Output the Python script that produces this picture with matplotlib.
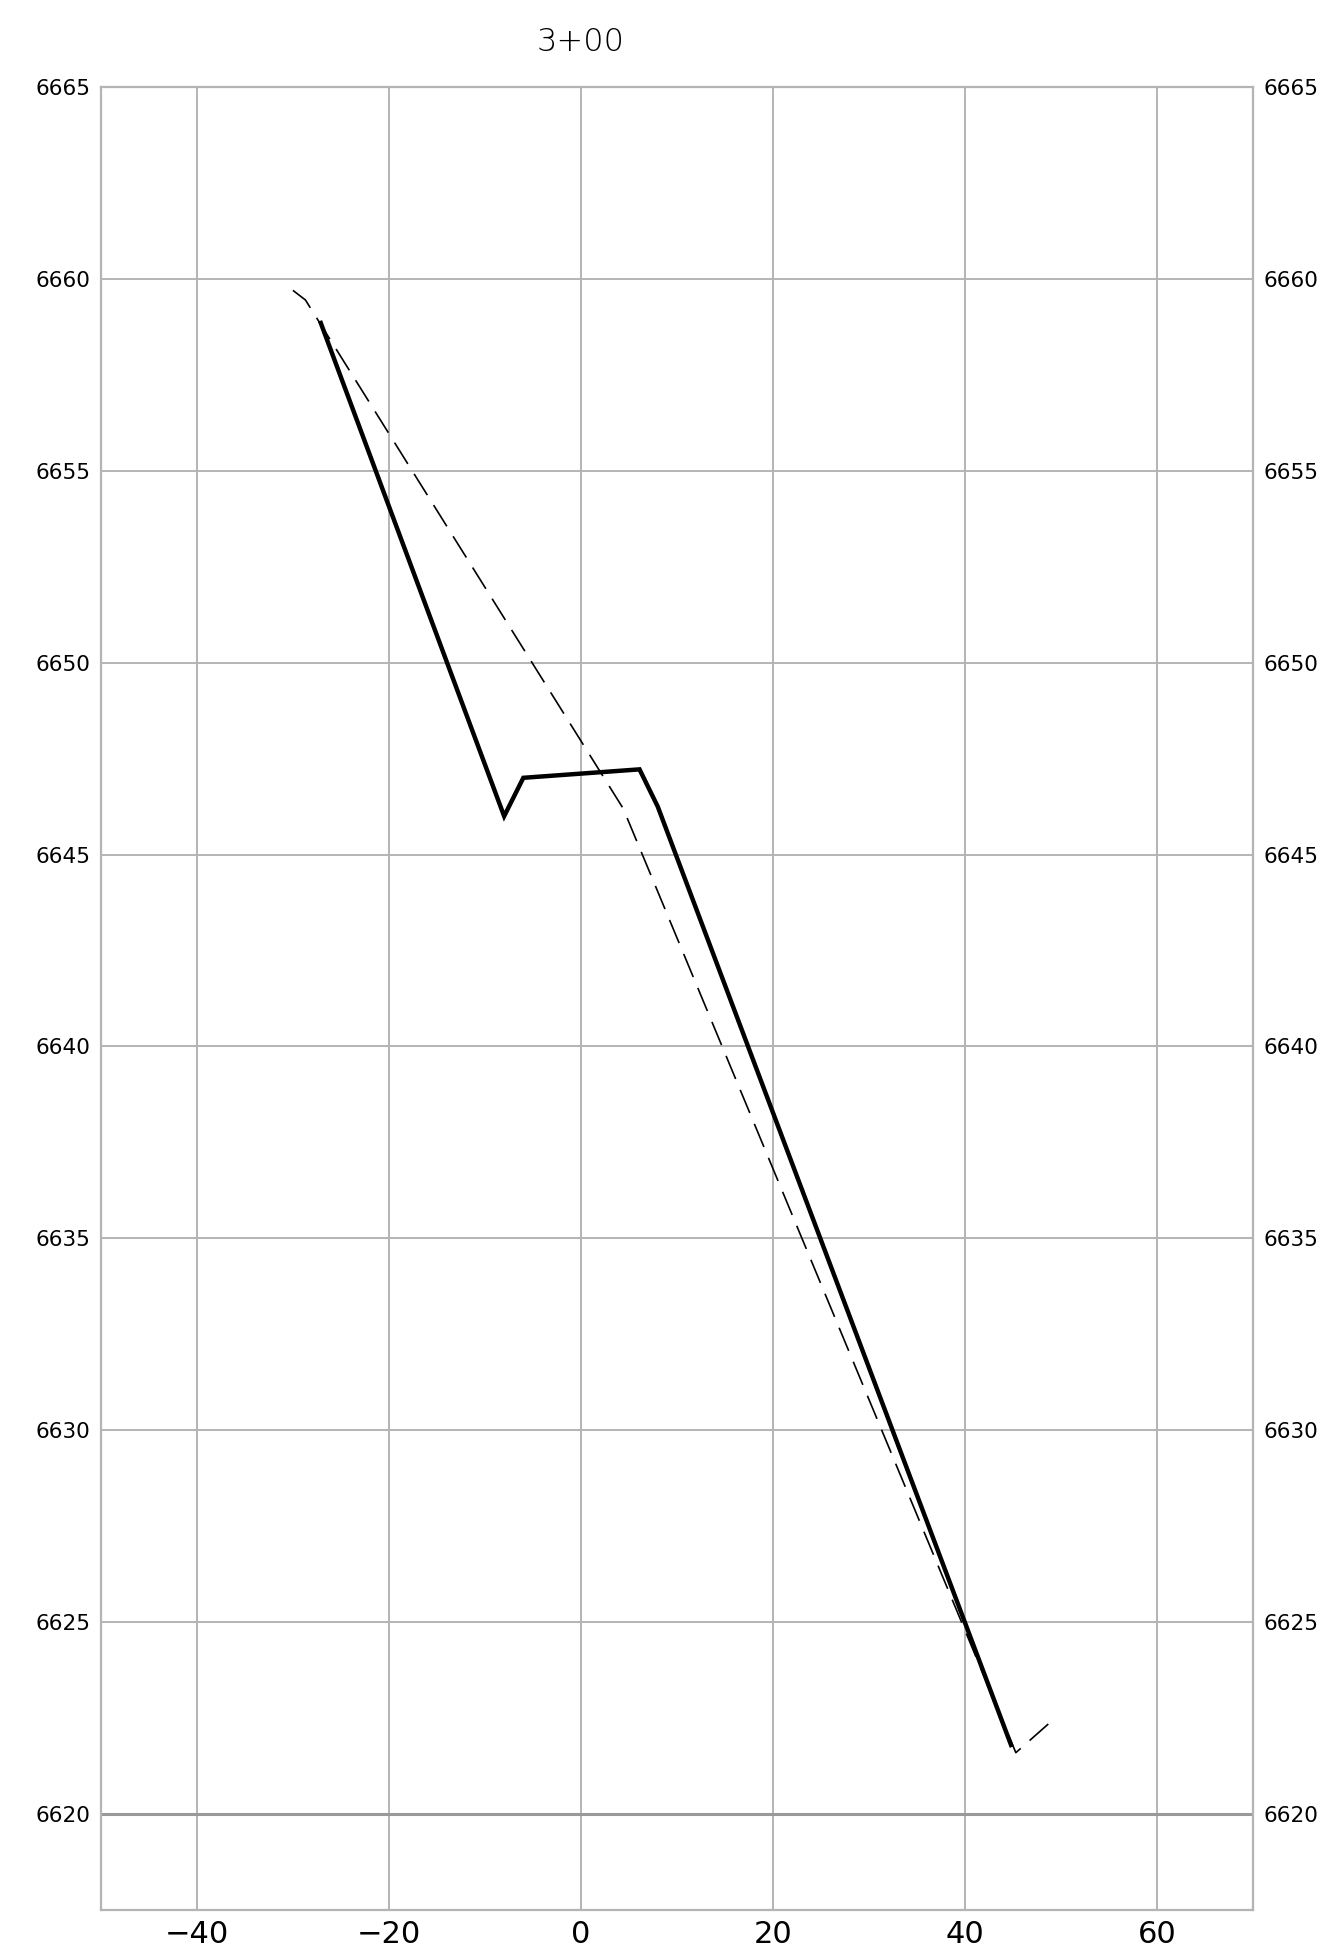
import matplotlib
matplotlib.use("Agg")
import matplotlib.pyplot as plt
from matplotlib import font_manager

plt.rcParams['lines.scale_dashes'] = False

title = "3+00"
x_ticks = [-40, -20, 0, 20, 40, 60]
y_ticks = [6620, 6625, 6630, 6635, 6640, 6645, 6650, 6655, 6660, 6665]

# proposed (solid) section
design_x = [-27.1, -8.0, -6.0, 6.1, 8.0, 44.8]
design_y = [6658.85, 6646.0, 6647.0, 6647.22, 6646.25, 6621.8]

# existing ground (dashed)
ground_x = [-30.0, -28.7, 4.4, 45.3, 49.6]
ground_y = [6659.7, 6659.45, 6646.2, 6621.6, 6622.55]

fl = font_manager.fontManager.ttflist
fams = {f.name for f in fl}
narrow = 'Liberation Sans Narrow' if 'Liberation Sans Narrow' in fams else 'DejaVu Sans'
light = [f for f in fl if f.name == 'DejaVu Sans' and f.weight in (200, 'extra light', 'ultralight', 'light', 300)]
if light:
    title_font = dict(fontfamily='DejaVu Sans', fontweight=light[0].weight)
else:
    lato_l = [f for f in fl if f.name == 'Lato' and f.weight in (300, 'light')]
    if lato_l:
        title_font = dict(fontfamily='Lato', fontweight=300)
    else:
        title_font = dict(fontfamily='DejaVu Sans', fontweight='normal')

fig = plt.figure(figsize=(13.28, 19.54), dpi=100)
ax = fig.add_axes([0.076, 0.0225, 0.8675, 0.933])

grid_c = '#b4b4b4'
for xt in x_ticks:
    ax.axvline(xt, color=grid_c, lw=1.4, zorder=1)
for yt in y_ticks:
    ax.axhline(yt, color=grid_c, lw=1.4, zorder=1)
ax.axhline(6620, color='#999999', lw=2.2, zorder=1)

ax.plot(ground_x, ground_y, color='black', lw=1.2, dashes=(18, 8.5), zorder=3)
ax.plot(design_x, design_y, color='black', lw=3.2, zorder=4, solid_joinstyle='miter')

ax.set_xlim(-50, 70)
ax.set_ylim(6617.5, 6665)
ax.set_xticks(x_ticks)
ax.set_yticks(y_ticks)
ax.set_xticklabels(['\u2212' + str(abs(v)) if v < 0 else str(v) for v in x_ticks],
                   fontfamily=narrow, fontsize=22)
ax.set_yticklabels([str(v) for v in y_ticks], fontsize=15.5)
ax.tick_params(axis='y', which='both', length=0, pad=7.5, labelleft=True, labelright=True)
ax.tick_params(axis='x', length=0, pad=7)
for s in ax.spines.values():
    s.set_color(grid_c)
    s.set_linewidth(1.6)

ax.text(0, 1.0 + (87 - 42) / 1823.0, title, transform=ax.get_xaxis_transform(),
        ha='center', va='center', fontsize=23, color='black', **title_font)

fig.savefig('out.png', dpi=100)
